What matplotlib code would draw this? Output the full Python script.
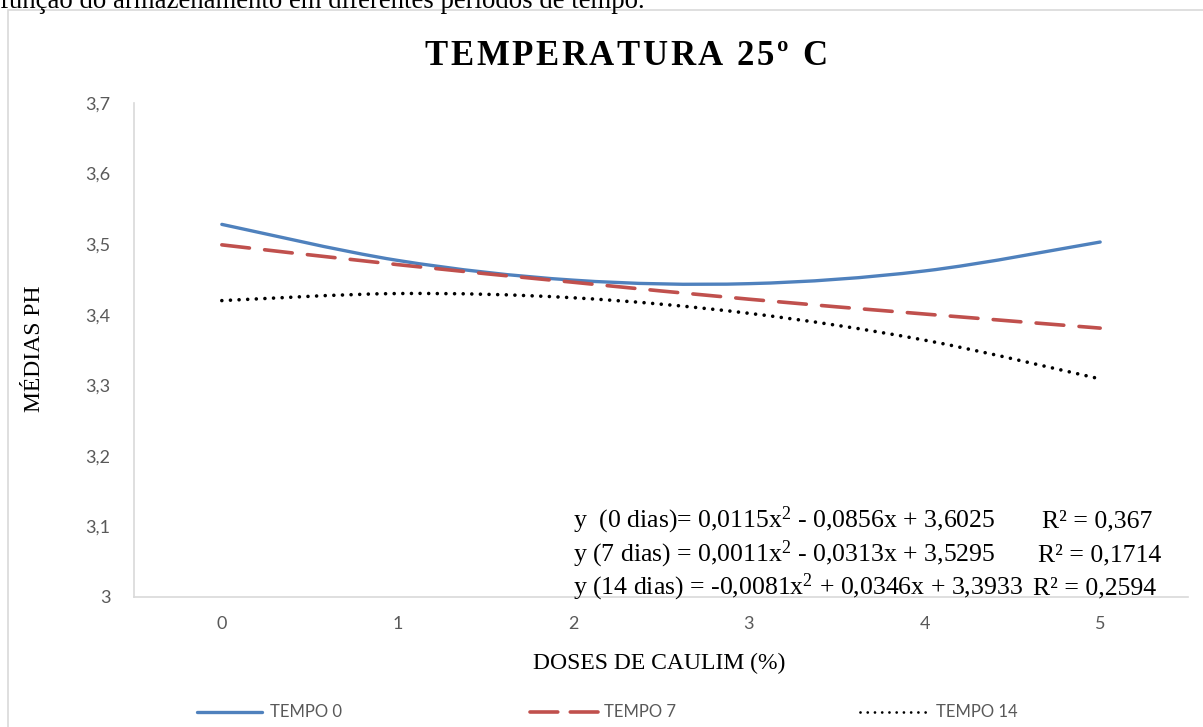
import matplotlib
matplotlib.use("Agg")
import matplotlib.pyplot as plt
from matplotlib.path import Path
from matplotlib.patches import PathPatch, Rectangle
from matplotlib.lines import Line2D

plt.rcParams['lines.scale_dashes'] = False
plt.rcParams['mathtext.fontset'] = 'custom'
plt.rcParams['mathtext.rm'] = 'Liberation Serif'
plt.rcParams['mathtext.it'] = 'Liberation Serif:italic'
plt.rcParams['mathtext.bf'] = 'Liberation Serif:bold'

# ---- data ----
doses = [0, 1, 2, 3, 4, 5]
tempo0 = [3.528, 3.477, 3.449, 3.444, 3.462, 3.503]
tempo7 = [3.499, 3.471, 3.446, 3.422, 3.401, 3.381]
tempo14 = [3.420, 3.430, 3.424, 3.402, 3.364, 3.309]
series_names = ["TEMPO 0", "TEMPO 7", "TEMPO 14"]
y_ticks = [3.0, 3.1, 3.2, 3.3, 3.4, 3.5, 3.6, 3.7]
y_ticklabels = ["3", "3,1", "3,2", "3,3", "3,4", "3,5", "3,6", "3,7"]
equations = [
    r"y  (0 dias)= 0,0115x$^{2}$ - 0,0856x + 3,6025",
    r"y (7 dias) = 0,0011x$^{2}$ - 0,0313x + 3,5295",
    r"y (14 dias) = -0,0081x$^{2}$ + 0,0346x + 3,3933",
]
r2_labels = ["R² = 0,367", "R² = 0,1714", "R² = 0,2594"]
title = "TEMPERATURA 25º C"

W, H = 1203, 727
fig = plt.figure(figsize=(W / 100, H / 100), dpi=100)

def fx(px):
    return px / W

def fy(py):
    return 1 - py / H

ax = fig.add_axes([fx(134), fy(597), fx(1188) - fx(134), fy(103) - fy(597)])
ax.set_xlim(-0.5, 5.5)
ax.set_ylim(3.0, 3.7)

def smooth_path(xs, ys):
    pts = list(zip(xs, ys))
    verts = [pts[0]]
    codes = [Path.MOVETO]
    n = len(pts)
    for i in range(n - 1):
        p0 = pts[i - 1] if i > 0 else pts[i]
        p1 = pts[i]
        p2 = pts[i + 1]
        p3 = pts[i + 2] if i + 2 < n else pts[i + 1]
        c1 = (p1[0] + (p2[0] - p0[0]) / 6, p1[1] + (p2[1] - p0[1]) / 6)
        c2 = (p2[0] - (p3[0] - p1[0]) / 6, p2[1] - (p3[1] - p1[1]) / 6)
        verts += [c1, c2, p2]
        codes += [Path.CURVE4] * 3
    return Path(verts, codes)

styles = [
    dict(color="#4F81BD", lw=2.4, ls="-"),
    dict(color="#C0504D", lw=2.6, ls=(0, (20, 11))),
    dict(color="#000000", lw=2.6, ls=(0, (0.01, 6.2))),
]
for vals, st in zip([tempo0, tempo7, tempo14], styles):
    patch = PathPatch(smooth_path(doses, vals), facecolor="none", edgecolor=st["color"],
                      lw=st["lw"], linestyle=st["ls"], capstyle="round")
    ax.add_patch(patch)

for s in ["top", "right"]:
    ax.spines[s].set_visible(False)
for s in ["left", "bottom"]:
    ax.spines[s].set_color("#D9D9D9")
    ax.spines[s].set_linewidth(1.2)

ax.set_xticks(doses)
ax.set_xticklabels([str(d) for d in doses])
ax.set_yticks(y_ticks)
ax.set_yticklabels(y_ticklabels)
ax.tick_params(length=0, colors="#595959", labelsize=13)
for lab in ax.get_xticklabels() + ax.get_yticklabels():
    lab.set_fontfamily("Lato")
ax.tick_params(axis="x", pad=14)
ax.tick_params(axis="y", pad=17)

# axis labels
fig.text(fx(35), fy(349), "MÉDIAS PH", rotation=90, ha="center", va="center",
         fontsize=17, family="Liberation Serif")
fig.text(fx(659), fy(663), "DOSES DE CAULIM (%)", ha="center", va="center",
         fontsize=17, family="Liberation Serif")

# title with letter spacing (drawn char by char)
renderer = fig.canvas.get_renderer()
tfs = 25
spacing_px = 2.6
widths = []
for ch in title:
    t = fig.text(0, 0, ch if ch != " " else "a a", fontsize=tfs, fontweight="bold",
                 family="Liberation Serif")
    w = t.get_window_extent(renderer).width
    if ch == " ":
        t2 = fig.text(0, 0, "aa", fontsize=tfs, fontweight="bold", family="Liberation Serif")
        w = w - t2.get_window_extent(renderer).width
        t2.remove()
    t.remove()
    widths.append(w)
total = sum(widths) + spacing_px * (len(title) - 1)
x = 626 - total / 2
for ch, w in zip(title, widths):
    if ch != " ":
        fig.text(fx(x), fy(65), ch, ha="left", va="baseline", fontsize=tfs,
                 fontweight="bold", family="Liberation Serif")
    x += w + spacing_px

# equations
eq_base = [527, 561, 594]
r2_x = [1042, 1038, 1033]
for eq, r2, yb, rx in zip(equations, r2_labels, eq_base, r2_x):
    fig.text(fx(573), fy(yb), eq, ha="left", va="baseline",
             fontsize=18.5, family="Liberation Serif")
    fig.text(fx(rx), fy(yb), r2, ha="left", va="baseline",
             fontsize=18.5, family="Liberation Serif")

# top caption (cut off)
fig.text(fx(0), fy(1), "função do armazenamento em diferentes períodos de tempo.",
         ha="left", va="center", fontsize=19.3, family="Liberation Serif")

# border
fig.add_artist(Rectangle((fx(8), fy(727 + 5)), fx(1203) - fx(8) + 0.01, fy(10) - fy(732),
                         transform=fig.transFigure, fill=False, edgecolor="#D9D9D9", lw=1.2))

# legend (manual)
leg_y = fy(712)
leg = [(197, 262, 270), (530, 598, 604), (860, 928, 936)]
leg_ls = ["-", (0, (20, 9)), (0, (0.01, 5.2))]
leg_lw = [2.4, 2.6, 2.0]
for (x0, x1, xt), st, name, lls, llw in zip(leg, styles, series_names, leg_ls, leg_lw):
    fig.add_artist(Line2D([fx(x0), fx(x1)], [leg_y, leg_y], transform=fig.transFigure,
                          color=st["color"], lw=llw, linestyle=lls,
                          dash_capstyle="round", solid_capstyle="round"))
    fig.text(fx(xt), leg_y, name, ha="left", va="center", fontsize=12,
             color="#595959", family="Lato")

fig.savefig("out.png", dpi=100)
